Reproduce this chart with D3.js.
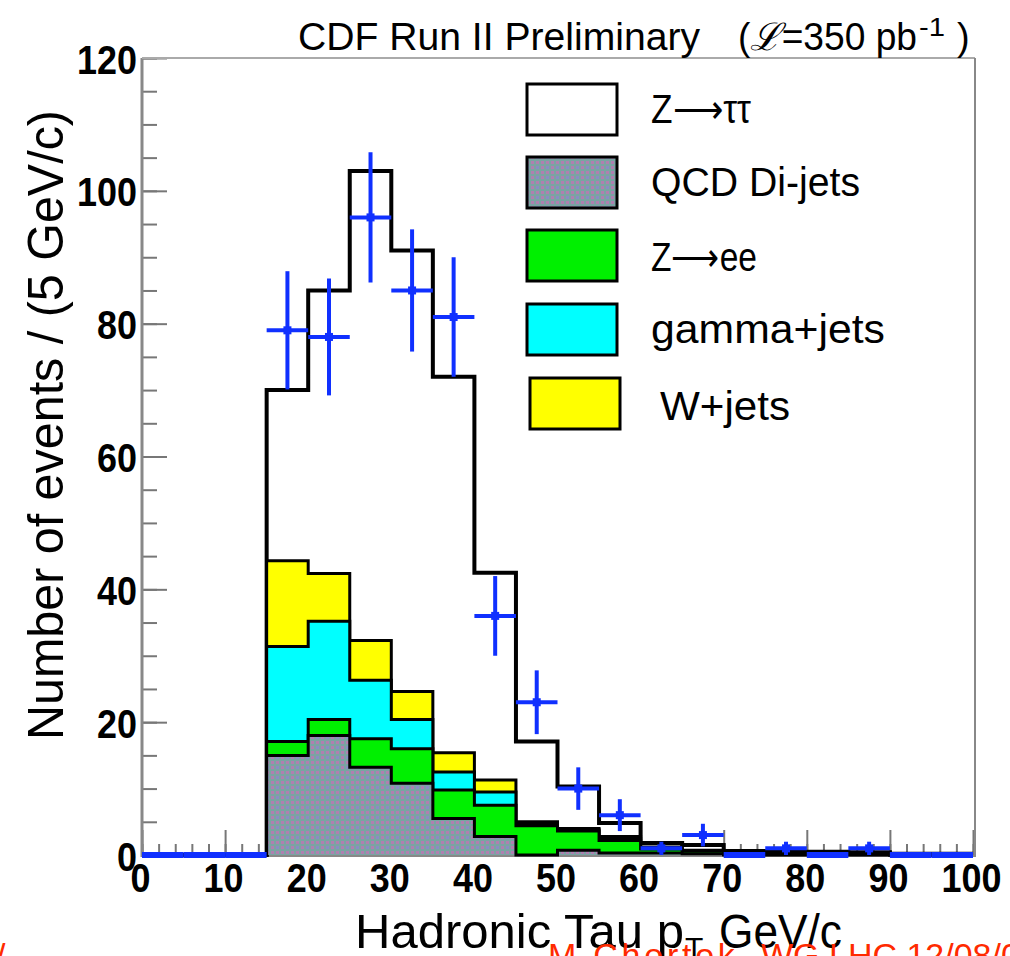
<!DOCTYPE html>
<html><head><meta charset="utf-8">
<script src="https://cdn.jsdelivr.net/npm/d3@7"></script>
<style>body{margin:0;background:#fff} svg{display:block}</style>
</head><body>
<svg id="c" width="1010" height="956"></svg>
<script>
// ---- data (5 GeV/c bins, lower edges) ----
const binLo   = [0,5,10,15,20,25,30,35,40,45,50,55,60,65,70,75,80,85,90,95];
const binW    = 5;
const qcd     = [0,0,0,15.0,18.0,13.2,10.8,5.5,2.8,0.0,0.7,0.3,0.3,0.2,0,0,0,0,0,0];
const zee     = [0,0,0,2.1,2.4,4.3,5.2,4.3,4.7,4.4,2.9,1.9,0.6,0.4,0.1,0.1,0.1,0.1,0,0];
const gjets   = [0,0,0,14.3,14.8,8.8,4.4,2.7,2.0,0.3,0.2,0.3,0.1,0.05,0,0,0,0,0,0];
const wjets   = [0,0,0,12.9,7.2,6.0,4.2,2.9,1.8,0.3,0.2,0.3,0.2,0.05,0,0,0,0,0,0];
const ztautau = [0,0,0,25.7,42.6,70.7,66.4,56.6,31.2,12.1,6.3,2.0,0.6,0.8,0.5,0.4,0.4,0.3,0.2,0.2];
const dataVal = [0,0,0,79,78,96,85,81,36,23,10,6,1,3,0,1,0,1,0,0];
const dataErr = [0,0,0,8.9,8.8,9.8,9.2,9.0,6.0,4.8,3.2,2.4,1.0,1.7,0,1.0,0,1.0,0,0];
const xTickVals = [0,10,20,30,40,50,60,70,80,90,100];
const xTickLabels = ["0","10","20","30","40","50","60","70","80","90","100"];
const yTickVals = [0,20,40,60,80,100,120];
const yTickLabels = ["0","20","40","60","80","100","120"];
const legendLabels = ["Z\u27F6\u03C4\u03C4","QCD Di-jets","Z\u27F6ee","gamma+jets","W+jets"];
const legendColors = ["#ffffff","url(#qcdPat)","#00f000","#00ffff","#ffff00"];

const svg = d3.select("#c");
const x = d3.scaleLinear().domain([0,100]).range([142,973]);
const y = d3.scaleLinear().domain([0,120]).range([855,58]);
const F = "'Liberation Sans', Arial, Helvetica, sans-serif";

// pattern for QCD
const defs = svg.append("defs");
const pat = defs.append("pattern").attr("id","qcdPat").attr("patternUnits","userSpaceOnUse")
  .attr("width",10).attr("height",10);
pat.append("rect").attr("width",10).attr("height",10).attr("fill","#7aa3a3");
[[1,1,"#b07fb0"],[6,1,"#b07fb0"],[1,6,"#b07fb0"],[6,6,"#8a8cc4"]].forEach(p=>{
  pat.append("rect").attr("x",p[0]).attr("y",p[1]).attr("width",3).attr("height",3).attr("fill",p[2]);
});

// ---- axes (drawn first, histograms overlay) ----
const xMinor = d3.range(0,101,2);
const yMinor = d3.range(0,121,5);
const gx = svg.append("g").attr("transform",`translate(0,${y(0)})`);
gx.call(d3.axisBottom(x).tickValues(xMinor).tickSize(-11).tickFormat(""));
gx.call(g=>{g.selectAll(".tick line").attr("stroke","#777").attr("stroke-width",2); g.select(".domain").remove();});
const gx2 = svg.append("g").attr("transform",`translate(0,${y(0)})`);
gx2.call(d3.axisBottom(x).tickValues(xTickVals).tickSize(-25).tickPadding(8)
   .tickFormat((d,i)=>xTickLabels[i]));
gx2.select(".domain").remove();
gx2.selectAll(".tick line").attr("stroke","#777").attr("stroke-width",2);
gx2.selectAll(".tick text").attr("font-family",F).attr("font-weight","bold").attr("font-size",40)
   .attr("fill","#000").attr("dy",null).attr("y",37).attr("x",-2)
   .attr("textLength",(d,i)=>xTickLabels[i].length*20).attr("lengthAdjust","spacingAndGlyphs");

const gy = svg.append("g").attr("transform",`translate(${x(0)},0)`);
gy.call(d3.axisLeft(y).tickValues(yMinor).tickSize(-15).tickFormat(""));
gy.call(g=>{g.selectAll(".tick line").attr("stroke","#777").attr("stroke-width",2); g.select(".domain").remove();});
const gy2 = svg.append("g").attr("transform",`translate(${x(0)},0)`);
gy2.call(d3.axisLeft(y).tickValues(yTickVals).tickSize(-25).tickPadding(5)
   .tickFormat((d,i)=>yTickLabels[i]));
gy2.select(".domain").remove();
gy2.selectAll(".tick line").attr("stroke","#777").attr("stroke-width",2);
gy2.selectAll(".tick text").attr("font-family",F).attr("font-weight","bold").attr("font-size",40)
   .attr("fill","#000").attr("dy",null).attr("y",15).attr("x",-5)
   .attr("textLength",(d,i)=>yTickLabels[i].length*20).attr("lengthAdjust","spacingAndGlyphs");

// frame
svg.append("line").attr("x1",x(0)).attr("x2",x(0)).attr("y1",y(120)).attr("y2",y(0)+2)
  .attr("stroke","#888").attr("stroke-width",3);
svg.append("line").attr("x1",x(0)).attr("x2",975).attr("y1",y(120)).attr("y2",y(120))
  .attr("stroke","#aaa").attr("stroke-width",2);
svg.append("line").attr("x1",975).attr("x2",975).attr("y1",y(120)).attr("y2",y(0)+2)
  .attr("stroke","#888").attr("stroke-width",2);
svg.append("line").attr("x1",x(0)).attr("x2",975).attr("y1",y(0)+1).attr("y2",y(0)+1)
  .attr("stroke","#888").attr("stroke-width",2);

// ---- stacked histograms ----
const layers = [qcd, zee, gjets, wjets, ztautau];
const cum = [];
let run = binLo.map(()=>0);
layers.forEach(l=>{ run = run.map((v,i)=>v+l[i]); cum.push(run); });
const fills = ["url(#qcdPat)","#00f000","#00ffff","#ffff00","#ffffff"];
const pts = c => binLo.map((b,i)=>[b,c[i]]).concat([[binLo[binLo.length-1]+binW, c[c.length-1]]]);
const area = d3.area().curve(d3.curveStepAfter).x(d=>x(d[0])).y0(y(0)).y1(d=>y(d[1]));
const line = d3.line().curve(d3.curveStepAfter).x(d=>x(d[0])).y(d=>y(d[1]));
for (let k=cum.length-1;k>=0;k--){
  const p = pts(cum[k]);
  svg.append("path").attr("d",area(p)).attr("fill",fills[k]).attr("stroke","none");
  svg.append("path").attr("d",line(p)).attr("fill","none").attr("stroke","#000")
     .attr("stroke-width",k===cum.length-1?4:3);
}

// ---- data points ----
const blue = "#1030ff";
const gd = svg.append("g");
binLo.forEach((b,i)=>{
  const v = dataVal[i], e = dataErr[i];
  gd.append("line").attr("x1",x(b)).attr("x2",x(b+binW)).attr("y1",y(v)).attr("y2",y(v))
    .attr("stroke",blue).attr("stroke-width",v>0?4:6);
  if (v>0){
    gd.append("line").attr("x1",x(b+binW/2)).attr("x2",x(b+binW/2))
      .attr("y1",y(Math.max(0,v-e))).attr("y2",y(v+e)).attr("stroke",blue).attr("stroke-width",4);
    gd.append("rect").attr("x",x(b+binW/2)-4).attr("y",y(v)-4).attr("width",8).attr("height",8).attr("fill",blue);
  }
});

// ---- legend ----
const legY = [84,157,230,304,378];
const legTextY = [123,196,271,343,420];
const legTextX = [651,651,651,651,660];
const legTextW = [100,209,106,234,130];
legendLabels.forEach((lab,i)=>{
  svg.append("rect").attr("x",i===4?530:527).attr("y",legY[i]).attr("width",90).attr("height",51)
    .attr("fill",legendColors[i]).attr("stroke","#000").attr("stroke-width",3);
  svg.append("text").attr("x",legTextX[i]).attr("y",legTextY[i]).attr("font-family",F)
    .attr("font-size",41).attr("textLength",legTextW[i]).attr("lengthAdjust","spacingAndGlyphs").text(lab);
});

// ---- titles ----
svg.append("text").attr("x",298).attr("y",50).attr("font-family",F).attr("font-size",38)
  .attr("textLength",402).attr("lengthAdjust","spacingAndGlyphs").text("CDF Run II Preliminary");
svg.append("text").attr("x",738).attr("y",50).attr("font-family",F).attr("font-size",38)
  .attr("textLength",179).attr("lengthAdjust","spacingAndGlyphs")
  .html("(<tspan font-style='italic'>\u2112</tspan>=350 pb");
svg.append("text").attr("x",919).attr("y",36).attr("font-family",F).attr("font-size",26)
  .attr("textLength",26).attr("lengthAdjust","spacingAndGlyphs").text("-1");
svg.append("text").attr("x",957).attr("y",50).attr("font-family",F).attr("font-size",38).text(")");

svg.append("text").attr("transform","translate(63,425) rotate(-90)").attr("text-anchor","middle")
  .attr("font-family",F).attr("font-size",50).attr("textLength",630).attr("lengthAdjust","spacingAndGlyphs")
  .text("Number of events / (5 GeV/c)");

svg.append("text").attr("x",355).attr("y",948).attr("font-family",F).attr("font-size",49)
  .attr("textLength",329).attr("lengthAdjust","spacingAndGlyphs").text("Hadronic Tau p");
svg.append("text").attr("x",685).attr("y",958).attr("font-family",F).attr("font-size",30).text("T");
svg.append("text").attr("x",719).attr("y",948).attr("font-family",F).attr("font-size",49)
  .attr("textLength",123).attr("lengthAdjust","spacingAndGlyphs").text("GeV/c");

// red footer (clipped by page edge, as in the reference)
svg.append("text").attr("x",548).attr("y",967).attr("font-family",F).attr("font-size",34)
  .attr("fill","#ff2a00").attr("textLength",200).attr("lengthAdjust","spacing").text("M.Chertok,");
svg.append("text").attr("x",761).attr("y",967).attr("font-family",F).attr("font-size",34)
  .attr("fill","#ff2a00").text("WG LHC 12/08/06");
svg.append("text").attr("x",-4).attr("y",967).attr("font-family",F).attr("font-size",34)
  .attr("fill","#ff2a00").text("/");
</script>
</body></html>
